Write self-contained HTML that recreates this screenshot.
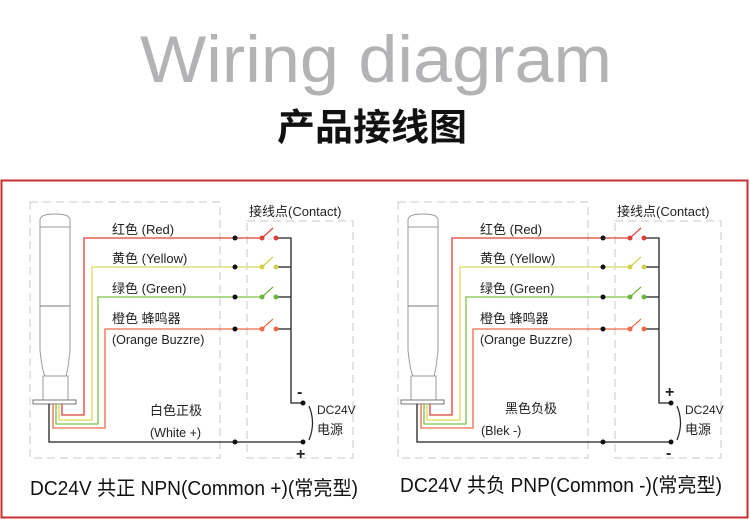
<!DOCTYPE html>
<html><head><meta charset="utf-8"><style>
html,body{margin:0;padding:0;background:#fff;}
svg{display:block;}
text{font-family:"Liberation Sans","Noto Sans CJK SC",sans-serif;}
</style></head><body>
<svg width="750" height="520" viewBox="0 0 750 520" xmlns="http://www.w3.org/2000/svg">
<text x="140" y="82" font-size="66" fill="#b3b3b6" textLength="472" lengthAdjust="spacingAndGlyphs">Wiring diagram</text>
<text x="277" y="140" font-size="37" font-weight="bold" fill="#111" textLength="190" lengthAdjust="spacingAndGlyphs">产品接线图</text>
<rect x="1.5" y="180.5" width="746" height="337" fill="none" stroke="#c8302e" stroke-width="2"/>

<defs>
<g id="panel">
  <rect x="30" y="202" width="190" height="256" fill="none" stroke="#c9c9c9" stroke-width="1" stroke-dasharray="8,5"/>
  <rect x="247" y="221" width="106" height="237" fill="none" stroke="#c9c9c9" stroke-width="1" stroke-dasharray="8,5"/>
  <!-- tower -->
  <path d="M40,220 Q40,214 55,214 Q70,214 70,220 L70,350 Q68,370 66,376 L45,376 Q42,370 40,350 Z" fill="#fff" stroke="#999" stroke-width="1"/>
  <line x1="40" y1="227" x2="70" y2="227" stroke="#999"/>
  <line x1="40" y1="306" x2="70" y2="306" stroke="#777"/>
  <rect x="43" y="376" width="25" height="24" fill="#fff" stroke="#999"/>
  <rect x="33" y="400" width="43" height="4" fill="#fff" stroke="#777"/>
  <!-- wires -->
  <g fill="none" stroke-width="1.3">
    <polyline points="62,404 62,415 84,415 84,238 262,238" stroke="#e0403a"/>
    <polyline points="59,404 59,420 92,420 92,267 262,267" stroke="#d9dc5a"/>
    <polyline points="56,404 56,424 98,424 98,297 262,297" stroke="#7cc04a"/>
    <polyline points="53,404 53,428 105,428 105,329 262,329" stroke="#ef6a4a"/>
    <polyline points="49,404 49,442 303,442" stroke="#222"/>
    <polyline points="276,238 291,238 291,403 303,403" stroke="#222"/>
    <line x1="276" y1="267" x2="291" y2="267" stroke="#222"/>
    <line x1="276" y1="297" x2="291" y2="297" stroke="#222"/>
    <line x1="276" y1="329" x2="291" y2="329" stroke="#222"/>
  </g>
  <g fill="#111">
    <circle cx="235" cy="238" r="2.5"/><circle cx="235" cy="267" r="2.5"/><circle cx="235" cy="297" r="2.5"/><circle cx="235" cy="329" r="2.5"/><circle cx="235" cy="442" r="2.5"/>
    <circle cx="303" cy="403" r="2.5"/><circle cx="303" cy="442" r="2.5"/>
  </g>
  <!-- switches -->
  <g stroke-width="1.2">
    <line x1="262" y1="238" x2="273" y2="228" stroke="#e0403a"/><circle cx="262" cy="238" r="2.5" fill="#e0403a"/><circle cx="276" cy="238" r="2.5" fill="#e0403a"/>
    <line x1="262" y1="267" x2="273" y2="257" stroke="#cfd24a"/><circle cx="262" cy="267" r="2.5" fill="#cfd24a"/><circle cx="276" cy="267" r="2.5" fill="#cfd24a"/>
    <line x1="262" y1="297" x2="273" y2="287" stroke="#6cb43c"/><circle cx="262" cy="297" r="2.5" fill="#6cb43c"/><circle cx="276" cy="297" r="2.5" fill="#6cb43c"/>
    <line x1="262" y1="329" x2="273" y2="319" stroke="#ef6a4a"/><circle cx="262" cy="329" r="2.5" fill="#ef6a4a"/><circle cx="276" cy="329" r="2.5" fill="#ef6a4a"/>
  </g>
  <path d="M309,406 Q316,423 309,440" fill="none" stroke="#222" stroke-width="1.2"/>
  <g font-size="13" fill="#222">
    <text x="112" y="234">红色 (Red)</text>
    <text x="112" y="263">黄色 (Yellow)</text>
    <text x="112" y="293">绿色 (Green)</text>
    <text x="112" y="323">橙色 蜂鸣器</text>
    <text x="112" y="344" font-size="12.5">(Orange Buzzre)</text>
    <text x="249" y="216">接线点(Contact)</text>
    <text x="317" y="414" font-size="12">DC24V</text>
    <text x="317" y="434">电源</text>
  </g>
</g>
</defs>

<use href="#panel"/>
<g font-size="13" fill="#222">
  <text x="150" y="415">白色正极</text>
  <text x="150" y="437" font-size="12.5">(White +)</text>
  <text x="297" y="397" font-size="16" font-weight="bold">-</text>
  <text x="296" y="459" font-size="16" font-weight="bold">+</text>
</g>
<text x="30" y="495" font-size="20" fill="#111" textLength="328" lengthAdjust="spacingAndGlyphs">DC24V 共正 NPN(Common +)(常亮型)</text>

<use href="#panel" transform="translate(368,0)"/>
<g font-size="13" fill="#222">
  <text x="505" y="413">黑色负极</text>
  <text x="481" y="435" font-size="12.5">(Blek -)</text>
  <text x="665" y="397" font-size="16" font-weight="bold">+</text>
  <text x="666" y="458" font-size="16" font-weight="bold">-</text>
</g>
<text x="400" y="492" font-size="20" fill="#111" textLength="322" lengthAdjust="spacingAndGlyphs">DC24V 共负 PNP(Common -)(常亮型)</text>
</svg>
</body></html>
